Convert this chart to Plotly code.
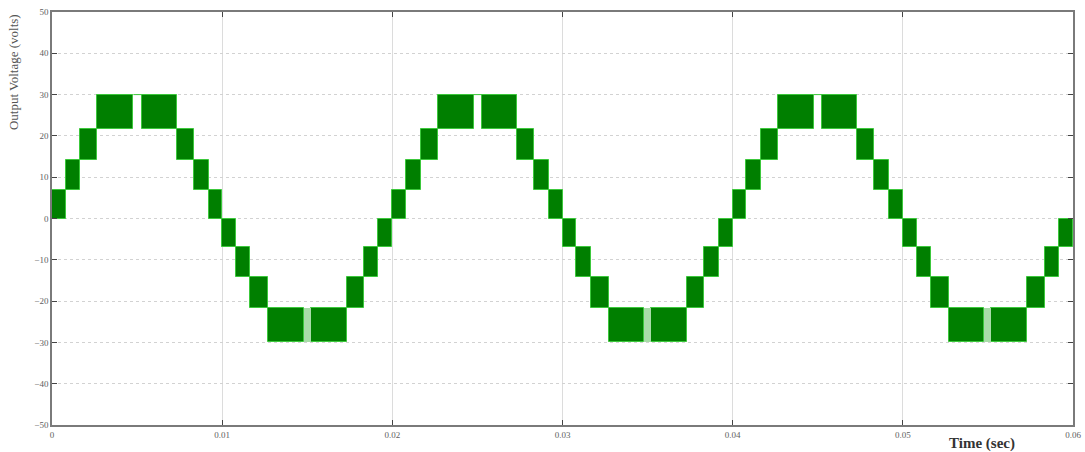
import plotly.graph_objects as go

# Block data (time in s, voltage in V)
t_start = [
    0.0, 0.0008, 0.00167, 0.00267, 0.00527, 0.00733, 0.00833, 0.0092,
    0.01, 0.01082, 0.01165, 0.01271, 0.01522, 0.01731, 0.01834, 0.01918,
    0.02, 0.0208, 0.02167, 0.02267, 0.02527, 0.02733, 0.02833, 0.0292,
    0.03, 0.03082, 0.03165, 0.03271, 0.03522, 0.03731, 0.03834, 0.03918,
    0.04, 0.0408, 0.04167, 0.04267, 0.04527, 0.04733, 0.04833, 0.0492,
    0.05, 0.05082, 0.05165, 0.05271, 0.05518, 0.05729, 0.05834, 0.05918,
]
t_end = [
    0.0008, 0.00167, 0.00267, 0.00478, 0.00733, 0.00833, 0.0092, 0.01,
    0.01082, 0.01165, 0.01271, 0.01478, 0.01731, 0.01834, 0.01918, 0.02,
    0.0208, 0.02167, 0.02267, 0.02478, 0.02733, 0.02833, 0.0292, 0.03,
    0.03082, 0.03165, 0.03271, 0.03478, 0.03731, 0.03834, 0.03918, 0.04,
    0.0408, 0.04167, 0.04267, 0.04478, 0.04733, 0.04833, 0.0492, 0.05,
    0.05082, 0.05165, 0.05271, 0.05478, 0.05729, 0.05834, 0.05918, 0.06,
]
v_low = [
    0, 7, 14.2, 21.6, 21.6, 14.2, 7, 0,
    -7, -14.2, -21.6, -30, -30, -21.6, -14.2, -7,
    0, 7, 14.2, 21.6, 21.6, 14.2, 7, 0,
    -7, -14.2, -21.6, -30, -30, -21.6, -14.2, -7,
    0, 7, 14.2, 21.6, 21.6, 14.2, 7, 0,
    -7, -14.2, -21.6, -30, -30, -21.6, -14.2, -7,
]
v_high = [
    7, 14.2, 21.6, 30, 30, 21.6, 14.2, 7,
    0, -7, -14.2, -21.6, -21.6, -14.2, -7, 0,
    7, 14.2, 21.6, 30, 30, 21.6, 14.2, 7,
    0, -7, -14.2, -21.6, -21.6, -14.2, -7, 0,
    7, 14.2, 21.6, 30, 30, 21.6, 14.2, 7,
    0, -7, -14.2, -21.6, -21.6, -14.2, -7, 0,
]

# Thin light-green gaps inside the negative peaks
gap_start = [0.01478, 0.03478, 0.05478]
gap_end = [0.01522, 0.03522, 0.05518]
gap_low = [-30, -30, -30]
gap_high = [-21.6, -21.6, -21.6]

# Flat segments at the positive peaks
peak_start = [0.00478, 0.02478, 0.04478]
peak_end = [0.00527, 0.02527, 0.04527]
peak_level = [30, 30, 30]

x_ticks = [0, 0.01, 0.02, 0.03, 0.04, 0.05, 0.06]
x_tick_text = ["0", "0.01", "0.02", "0.03", "0.04", "0.05", "0.06"]
y_ticks = [-50, -40, -30, -20, -10, 0, 10, 20, 30, 40, 50]

fig = go.Figure()

fig.add_trace(go.Bar(
    x=[(a + b) / 2 for a, b in zip(t_start, t_end)],
    width=[b - a for a, b in zip(t_start, t_end)],
    base=v_low,
    y=[h - l for l, h in zip(v_low, v_high)],
    marker=dict(color="#007f00", line=dict(color="#3cc83c", width=1)),
    showlegend=False,
    hoverinfo="skip",
))

fig.add_trace(go.Bar(
    x=[(a + b) / 2 for a, b in zip(gap_start, gap_end)],
    width=[b - a for a, b in zip(gap_start, gap_end)],
    base=gap_low,
    y=[h - l for l, h in zip(gap_low, gap_high)],
    marker=dict(color="#a8dca8", line=dict(color="#a8dca8", width=0)),
    showlegend=False,
    hoverinfo="skip",
))

for a, b, v in zip(peak_start, peak_end, peak_level):
    fig.add_trace(go.Scatter(
        x=[a, b], y=[v, v], mode="lines",
        line=dict(color="#3cc83c", width=1),
        showlegend=False, hoverinfo="skip",
    ))

axis_font = dict(family="Liberation Serif", size=9, color="#606060")

fig.update_layout(
    width=1085, height=452,
    margin=dict(l=52, r=12, t=12, b=27),
    paper_bgcolor="white", plot_bgcolor="white",
    barmode="overlay", bargap=0,
    xaxis=dict(
        range=[0, 0.06], tickvals=x_ticks, ticktext=x_tick_text,
        showgrid=True, gridcolor="#dcdcdc", gridwidth=1,
        zeroline=False, showline=True, linecolor="#7a7a7a", linewidth=1.5,
        mirror="allticks", ticks="inside", ticklen=5, tickcolor="#444444",
        tickfont=axis_font, automargin=False,
    ),
    yaxis=dict(
        range=[-50, 50], tickvals=y_ticks,
        showgrid=True, gridcolor="#d2d2d2", gridwidth=1, griddash="dot",
        zeroline=False, showline=True, linecolor="#7a7a7a", linewidth=1.5,
        mirror="allticks", ticks="inside", ticklen=5, tickcolor="#444444",
        tickfont=axis_font, automargin=False,
    ),
    annotations=[
        dict(text="Output Voltage (volts)", xref="paper", yref="paper",
             x=-0.037, y=0.855, xanchor="center", yanchor="middle",
             textangle=-90, showarrow=False,
             font=dict(family="Liberation Serif", size=13, color="#555555")),
        dict(text="<b>Time (sec)</b>", xref="paper", yref="paper",
             x=0.911, y=-0.044, showarrow=False,
             xanchor="center", yanchor="middle",
             font=dict(family="Liberation Serif", size=15, color="#333333")),
    ],
)

fig.write_html(
    "out.html",
    config={"displayModeBar": False},
    post_script="document.body.style.margin='0px';document.body.style.overflow='hidden';",
)
